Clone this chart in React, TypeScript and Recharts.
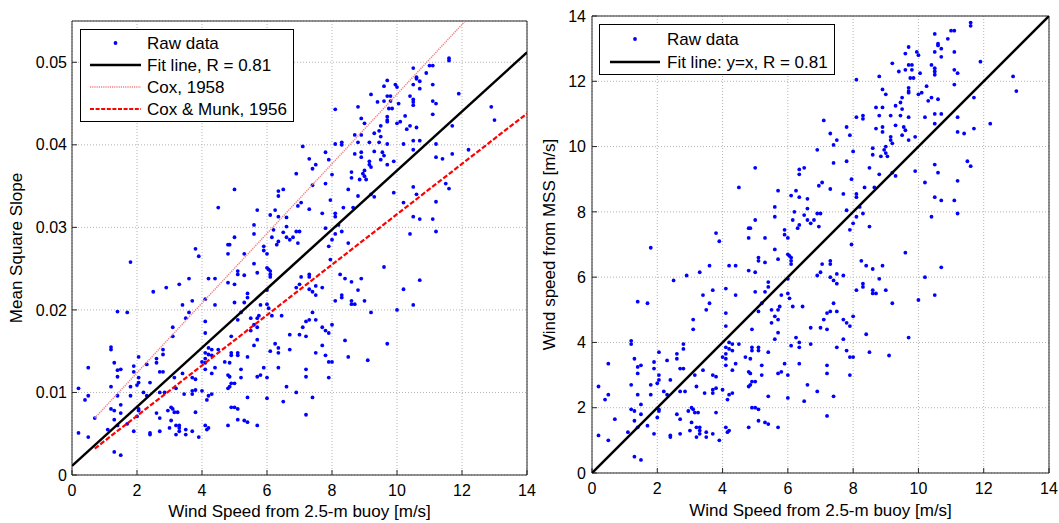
import React from "react";
import { ScatterChart, Scatter, XAxis, YAxis, CartesianGrid, Legend } from "recharts";

// wind speed from the 2.5-m buoy [m/s], one entry per sample
const buoyWind = [
  11.6, 11.6, 10.5, 11.0, 11.1, 10.9, 10.6, 10.6, 10.7, 9.7,
  9.95, 9.6, 10.0, 10.5, 10.7, 11.1, 9.2, 9.7, 9.8, 9.6,
  9.8, 9.4, 9.75, 9.85, 10.05, 10.4, 10.5, 10.5, 10.5, 11.1,
  11.2, 11.9, 12.9, 13.0, 11.1, 8.8, 8.1, 9.7, 9.7, 9.7,
  10.0, 10.1, 10.25, 8.9, 9.0, 9.5, 9.45, 9.3, 9.5, 10.3,
  10.4, 10.6, 11.7, 8.7, 8.9, 8.8, 9.15, 9.45, 9.7, 10.2,
  10.5, 10.7, 11.2, 8.7, 8.9, 8.9, 9.3, 9.55, 9.6, 10.5,
  11.7, 12.2, 11.2, 11.4, 9.9, 9.15, 9.15, 9.5, 8.1, 8.3,
  8.3, 7.1, 7.8, 7.3, 7.5, 7.4, 7.9, 9.7, 9.0, 8.95,
  9.0, 9.05, 9.2, 8.6, 8.6, 8.85, 8.0, 6.9, 7.4, 7.8,
  9.9, 9.2, 9.3, 8.8, 8.5, 10.5, 10.6, 11.5, 11.6, 11.2,
  10.2, 10.5, 10.7, 11.1, 11.2, 10.4, 8.65, 8.35, 7.95, 8.1,
  8.1, 8.2, 8.3, 8.1, 8.5, 8.0, 7.9, 7.8, 7.7, 7.05,
  6.95, 7.3, 6.9, 7.0, 6.95, 6.8, 6.7, 6.6, 6.5, 6.6,
  6.6, 6.35, 6.35, 6.35, 6.5, 6.25, 6.1, 6.2, 6.35, 6.3,
  6.15, 5.6, 5.6, 5.7, 5.9, 5.9, 6.0, 6.0, 6.05, 6.1,
  6.1, 6.1, 5.7, 5.6, 5.3, 5.0, 4.8, 4.85, 4.8, 3.8,
  3.9, 4.5, 1.8, 5.0, 7.3, 7.05, 7.3, 6.9, 7.0, 7.3,
  7.4, 7.5, 7.5, 7.7, 7.95, 8.25, 8.4, 8.6, 8.9, 8.8,
  8.3, 8.3, 8.1, 8.6, 8.7, 8.6, 9.0, 9.2, 10.2, 10.7,
  10.5, 9.6, 10.0, 9.7, 8.4, 8.5, 9.1, 7.8, 7.9, 8.0,
  7.7, 7.8, 7.9, 8.0, 7.9, 7.5, 7.4, 7.5, 7.3, 7.2,
  7.1, 7.2, 7.0, 7.7, 7.2, 7.2, 7.2, 7.4, 6.9, 6.7,
  6.7, 6.6, 6.5, 6.35, 6.35, 6.35, 6.25, 6.15, 6.45, 6.05,
  6.0, 6.0, 5.8, 5.7, 5.75, 5.7, 5.7, 5.6, 5.6, 5.7,
  5.8, 5.9, 6.0, 6.0, 6.1, 5.7, 5.4, 5.4, 5.5, 5.5,
  5.3, 5.4, 5.2, 5.1, 5.0, 5.1, 5.1, 5.2, 5.2, 5.1,
  5.1, 5.3, 5.4, 4.9, 4.9, 4.85, 4.8, 4.85, 4.9, 5.0,
  4.8, 4.85, 4.9, 5.0, 4.8, 4.9, 4.7, 4.4, 4.3, 4.3,
  4.2, 4.2, 4.3, 4.1, 4.1, 4.1, 4.1, 4.1, 4.1, 4.4,
  4.5, 4.2, 4.4, 4.8, 5.0, 5.1, 5.1, 5.3, 5.4, 4.0,
  4.1, 4.15, 4.2, 4.1, 4.15, 4.2, 4.3, 4.0, 3.9, 3.8,
  3.7, 3.8, 3.7, 3.7, 3.8, 3.7, 3.5, 3.5, 3.3, 3.3,
  3.3, 3.2, 3.2, 3.0, 3.15, 3.05, 3.1, 2.95, 3.05, 3.25,
  3.2, 3.15, 3.45, 3.4, 3.1, 3.1, 3.3, 3.4, 3.5, 3.6,
  3.6, 3.7, 2.9, 2.5, 2.8, 2.8, 2.7, 2.8, 2.6, 2.6,
  2.6, 2.7, 2.7, 2.7, 2.85, 2.4, 2.4, 2.4, 2.3, 2.2,
  2.3, 2.05, 2.05, 2.05, 2.05, 2.05, 2.0, 2.0, 1.9, 1.9,
  1.9, 1.8, 1.8, 1.7, 1.7, 1.4, 1.5, 1.5, 1.5, 1.4,
  1.4, 1.4, 1.3, 1.3, 1.3, 1.3, 1.5, 1.2, 1.2, 1.2,
  1.2, 1.1, 1.4, 0.7, 0.5, 0.5, 0.5, 0.4, 0.2, 0.2,
];

// mean square slope, same order as buoyWind
const mss = [
  0.0505, 0.0502, 0.0493, 0.0496, 0.0496, 0.0487, 0.0482, 0.048, 0.0477, 0.0478,
  0.0473, 0.0471, 0.047, 0.0473, 0.0468, 0.0473, 0.0461, 0.0459, 0.0459, 0.0453,
  0.0453, 0.0452, 0.0444, 0.0444, 0.045, 0.0459, 0.0455, 0.0452, 0.0448, 0.0453,
  0.045, 0.0462, 0.0446, 0.043, 0.0437, 0.0446, 0.0443, 0.0434, 0.043, 0.0428,
  0.0426, 0.0428, 0.0435, 0.0432, 0.0426, 0.0423, 0.0417, 0.0414, 0.041, 0.0419,
  0.0423, 0.0421, 0.0423, 0.0412, 0.0412, 0.0403, 0.0403, 0.0403, 0.0401, 0.0401,
  0.0405, 0.0405, 0.0401, 0.0389, 0.0391, 0.0385, 0.0392, 0.0391, 0.0387, 0.0394,
  0.0389, 0.0394, 0.0385, 0.0383, 0.038, 0.038, 0.0376, 0.0382, 0.0401, 0.0403,
  0.04, 0.0398, 0.0391, 0.0383, 0.0376, 0.0371, 0.0382, 0.0376, 0.0369, 0.0365,
  0.0362, 0.0358, 0.0373, 0.0367, 0.036, 0.0358, 0.0364, 0.0365, 0.0351, 0.0353,
  0.0342, 0.034, 0.0337, 0.0338, 0.0346, 0.0349, 0.034, 0.0353, 0.0347, 0.0331,
  0.033, 0.0313, 0.031, 0.031, 0.0295, 0.0292, 0.0324, 0.0324, 0.0333, 0.0317,
  0.0313, 0.0303, 0.0295, 0.0292, 0.0281, 0.0285, 0.0277, 0.0299, 0.0317, 0.033,
  0.0326, 0.0322, 0.0295, 0.0295, 0.0281, 0.0288, 0.0285, 0.0288, 0.0294, 0.0312,
  0.0301, 0.0313, 0.0338, 0.0344, 0.0346, 0.0321, 0.0315, 0.0297, 0.0283, 0.0279,
  0.0288, 0.0303, 0.0292, 0.0321, 0.0277, 0.0272, 0.0268, 0.0251, 0.0249, 0.0247,
  0.0243, 0.024, 0.0245, 0.0256, 0.0268, 0.0288, 0.0279, 0.0279, 0.0268, 0.0274,
  0.0265, 0.0324, 0.0258, 0.0346, 0.0243, 0.024, 0.024, 0.0227, 0.0231, 0.0225,
  0.0222, 0.0229, 0.0218, 0.0227, 0.0261, 0.0243, 0.0238, 0.0234, 0.0238, 0.0224,
  0.0218, 0.0215, 0.0211, 0.0211, 0.0207, 0.0207, 0.0211, 0.0197, 0.0225, 0.0236,
  0.0206, 0.0252, 0.02, 0.0159, 0.0163, 0.0143, 0.0139, 0.0145, 0.0137, 0.0137,
  0.0157, 0.0175, 0.0172, 0.0182, 0.0118, 0.0148, 0.0197, 0.0188, 0.0188, 0.0186,
  0.0179, 0.0168, 0.017, 0.0179, 0.0128, 0.0119, 0.0073, 0.0094, 0.01, 0.017,
  0.0152, 0.0107, 0.0089, 0.0154, 0.0148, 0.013, 0.0159, 0.0193, 0.0193, 0.0202,
  0.0207, 0.0224, 0.0206, 0.019, 0.0193, 0.0179, 0.0164, 0.0157, 0.0182, 0.0119,
  0.0121, 0.013, 0.0118, 0.0093, 0.015, 0.006, 0.0094, 0.0143, 0.019, 0.0175,
  0.0209, 0.0215, 0.0197, 0.0188, 0.0209, 0.0148, 0.0145, 0.0128, 0.0118, 0.008,
  0.0067, 0.0066, 0.0064, 0.0148, 0.0145, 0.0136, 0.0121, 0.0119, 0.0111, 0.0111,
  0.0105, 0.0107, 0.0082, 0.0082, 0.006, 0.0168, 0.0137, 0.013, 0.0123, 0.0145,
  0.0146, 0.0154, 0.0152, 0.0148, 0.0141, 0.0136, 0.0186, 0.0172, 0.0213, 0.0206,
  0.0152, 0.0238, 0.0238, 0.0233, 0.0231, 0.0247, 0.0243, 0.0242, 0.022, 0.0137,
  0.0128, 0.0091, 0.0096, 0.006, 0.0055, 0.0057, 0.0098, 0.0102, 0.0046, 0.0076,
  0.0118, 0.0116, 0.0102, 0.0098, 0.0103, 0.0053, 0.0055, 0.0049, 0.006, 0.0057,
  0.0053, 0.006, 0.0049, 0.0057, 0.0076, 0.0082, 0.008, 0.0078, 0.0066, 0.0076,
  0.0105, 0.0118, 0.0098, 0.0123, 0.0168, 0.0179, 0.0231, 0.0206, 0.019, 0.0197,
  0.0238, 0.0211, 0.0227, 0.0222, 0.0152, 0.0146, 0.0125, 0.0125, 0.0141, 0.0136,
  0.0075, 0.0069, 0.0053, 0.01, 0.01, 0.0051, 0.0049, 0.0112, 0.0134, 0.01,
  0.0096, 0.0143, 0.0118, 0.0112, 0.008, 0.0078, 0.0071, 0.0109, 0.0132, 0.0125,
  0.0053, 0.0107, 0.0096, 0.0197, 0.0062, 0.0198, 0.0128, 0.0085, 0.0075, 0.0127,
  0.0119, 0.0096, 0.0136, 0.0078, 0.0067, 0.0028, 0.0024, 0.0155, 0.0152, 0.0107,
  0.008, 0.0055, 0.006, 0.0069, 0.013, 0.0096, 0.0046, 0.0091, 0.0105, 0.0051,
];

// wind speed retrieved from MSS [m/s], same order as buoyWind
const mssWind = [
  13.8, 13.7, 13.45, 13.55, 13.55, 13.3, 13.15, 13.1, 13.0, 13.05,
  12.9, 12.85, 12.8, 12.9, 12.75, 12.9, 12.55, 12.5, 12.5, 12.35,
  12.35, 12.3, 12.1, 12.1, 12.25, 12.5, 12.4, 12.3, 12.2, 12.35,
  12.25, 12.6, 12.15, 11.7, 11.9, 12.15, 12.05, 11.8, 11.7, 11.65,
  11.6, 11.65, 11.85, 11.75, 11.6, 11.5, 11.35, 11.25, 11.15, 11.4,
  11.5, 11.45, 11.5, 11.2, 11.2, 10.95, 10.95, 10.95, 10.9, 10.9,
  11.0, 11.0, 10.9, 10.55, 10.6, 10.45, 10.65, 10.6, 10.5, 10.7,
  10.55, 10.7, 10.45, 10.4, 10.3, 10.3, 10.2, 10.35, 10.9, 10.95,
  10.85, 10.8, 10.6, 10.4, 10.2, 10.05, 10.35, 10.2, 10.0, 9.9,
  9.8, 9.7, 10.1, 9.95, 9.75, 9.7, 9.85, 9.9, 9.5, 9.55,
  9.25, 9.2, 9.1, 9.15, 9.35, 9.45, 9.2, 9.55, 9.4, 8.95,
  8.9, 8.45, 8.35, 8.35, 7.95, 7.85, 8.75, 8.75, 9.0, 8.55,
  8.45, 8.15, 7.95, 7.85, 7.55, 7.65, 7.45, 8.05, 8.55, 8.9,
  8.8, 8.7, 7.95, 7.95, 7.55, 7.75, 7.65, 7.75, 7.9, 8.4,
  8.1, 8.45, 9.15, 9.3, 9.35, 8.65, 8.5, 8.0, 7.6, 7.5,
  7.75, 8.15, 7.85, 8.65, 7.45, 7.3, 7.2, 6.7, 6.65, 6.6,
  6.5, 6.4, 6.55, 6.85, 7.2, 7.75, 7.5, 7.5, 7.2, 7.35,
  7.1, 8.75, 6.9, 9.35, 6.5, 6.4, 6.4, 6.05, 6.15, 6.0,
  5.9, 6.1, 5.8, 6.05, 7.0, 6.5, 6.35, 6.25, 6.35, 5.95,
  5.8, 5.7, 5.6, 5.6, 5.5, 5.5, 5.6, 5.2, 6.0, 6.3,
  5.45, 6.75, 5.3, 4.15, 4.25, 3.7, 3.6, 3.75, 3.55, 3.55,
  4.1, 4.6, 4.5, 4.8, 3.0, 3.85, 5.2, 4.95, 4.95, 4.9,
  4.7, 4.4, 4.45, 4.7, 3.3, 3.05, 1.75, 2.35, 2.5, 4.45,
  3.95, 2.7, 2.2, 4.0, 3.85, 3.35, 4.15, 5.1, 5.1, 5.35,
  5.5, 5.95, 5.45, 5.0, 5.1, 4.7, 4.3, 4.1, 4.8, 3.05,
  3.1, 3.35, 3.0, 2.3, 3.9, 1.4, 2.35, 3.7, 5.0, 4.6,
  5.55, 5.7, 5.2, 4.95, 5.55, 3.85, 3.75, 3.3, 3.0, 1.95,
  1.6, 1.55, 1.5, 3.85, 3.75, 3.5, 3.1, 3.05, 2.8, 2.8,
  2.65, 2.7, 2.0, 2.0, 1.4, 4.4, 3.55, 3.35, 3.15, 3.75,
  3.8, 4.0, 3.95, 3.85, 3.65, 3.5, 4.9, 4.5, 5.65, 5.45,
  3.95, 6.35, 6.35, 6.2, 6.15, 6.6, 6.5, 6.45, 5.85, 3.55,
  3.3, 2.25, 2.4, 1.4, 1.25, 1.3, 2.45, 2.55, 1.0, 1.85,
  3.0, 2.95, 2.55, 2.45, 2.6, 1.2, 1.25, 1.1, 1.4, 1.3,
  1.2, 1.4, 1.1, 1.3, 1.85, 2.0, 1.95, 1.9, 1.55, 1.85,
  2.65, 3.0, 2.45, 3.15, 4.4, 4.7, 6.15, 5.45, 5.0, 5.2,
  6.35, 5.6, 6.05, 5.9, 3.95, 3.8, 3.2, 3.2, 3.65, 3.5,
  1.8, 1.65, 1.2, 2.5, 2.5, 1.15, 1.1, 2.85, 3.45, 2.5,
  2.4, 3.7, 3.0, 2.85, 1.95, 1.9, 1.7, 2.75, 3.4, 3.2,
  1.2, 2.7, 2.4, 5.2, 1.45, 5.25, 3.3, 2.1, 1.8, 3.25,
  3.05, 2.4, 3.5, 1.9, 1.6, 0.5, 0.4, 4.05, 3.95, 2.7,
  1.95, 1.25, 1.4, 1.65, 3.35, 2.4, 1.0, 2.25, 2.65, 1.15,
];

// line end points
const fitX = [0, 14];
const fitMss = [0.0011, 0.0512];
const cox1958X = [0.7, 12.1];
const cox1958Mss = [0.0069, 0.055];
const coxMunkX = [0.7, 14];
const coxMunkMss = [0.0032, 0.0438];
const identityX = [0, 14];
const identityY = [0, 14];

const xTicks = [0, 2, 4, 6, 8, 10, 12, 14];
const mssTicks = [0, 0.01, 0.02, 0.03, 0.04, 0.05];
const windTicks = [0, 2, 4, 6, 8, 10, 12, 14];

const FONT = '"Liberation Sans", Arial, Helvetica, sans-serif';
const AXIS = "#262626";
const BLUE = "#0000ff";
const PINK = "#f08080";
const RED = "#ff0000";

const toPoints = (xs: number[], ys: number[]) => xs.map((x, i) => ({ x, y: ys[i] }));

const tickStyle = { fill: "#000", fontSize: 16, fontFamily: FONT };
const labelStyle = { fill: "#000", fontSize: 17, fontFamily: FONT };

const Dot = (p: any) => <circle cx={p.cx} cy={p.cy} r={1.9} fill={BLUE} />;
const NoMark = () => <g />;

type Kind = "dot" | "solid" | "dotted" | "dashed";
interface ILegendRow {
  label: string;
  kind: Kind;
}

const LegendBox = (props: {
  rows: ILegendRow[];
  width: number;
  height: number;
  rowTop: number;
  rowGap: number;
  lineX: [number, number];
  textX: number;
}) => {
  const { rows, width, height, rowTop, rowGap, lineX, textX } = props;
  return (
    <svg width={width} height={height} style={{ display: "block" }}>
      <rect x={0.5} y={0.5} width={width - 1} height={height - 1} fill="#fff" stroke="#000" />
      {rows.map((r, i) => {
        const cy = rowTop + i * rowGap;
        let sample;
        if (r.kind === "dot") {
          sample = <circle cx={(lineX[0] + lineX[1]) / 2} cy={cy} r={1.9} fill={BLUE} />;
        } else if (r.kind === "solid") {
          sample = <line x1={lineX[0]} x2={lineX[1]} y1={cy} y2={cy} stroke="#000" strokeWidth={2.5} />;
        } else if (r.kind === "dotted") {
          sample = (
            <line x1={lineX[0]} x2={lineX[1]} y1={cy} y2={cy} stroke={PINK} strokeWidth={1.5} strokeDasharray="1.2 1" />
          );
        } else {
          sample = (
            <line x1={lineX[0]} x2={lineX[1]} y1={cy} y2={cy} stroke={RED} strokeWidth={2.2} strokeDasharray="4 1.6" />
          );
        }
        return (
          <g key={r.label}>
            {sample}
            <text x={textX} y={cy + 6} fontSize={17} fontFamily={FONT} fill="#000">
              {r.label}
            </text>
          </g>
        );
      })}
    </svg>
  );
};

const mssLegend: ILegendRow[] = [
  { label: "Raw data", kind: "dot" },
  { label: "Fit line, R = 0.81", kind: "solid" },
  { label: "Cox, 1958", kind: "dotted" },
  { label: "Cox & Munk, 1956", kind: "dashed" },
];

const windLegend: ILegendRow[] = [
  { label: "Raw data", kind: "dot" },
  { label: "Fit line: y=x, R = 0.81", kind: "solid" },
];

// left chart is drawn wider than its plot so the last x tick label is not clipped
const MssChart = () => (
  <ScatterChart width={545} height={523} margin={{ top: 20, right: 17, bottom: 0, left: 0 }}>
    <CartesianGrid stroke="#b4b4b4" strokeDasharray="1 2" />
    <XAxis
      type="number"
      dataKey="x"
      domain={[0, 14]}
      ticks={xTicks}
      interval={0}
      allowDataOverflow
      height={48}
      tickSize={-5}
      tickMargin={15}
      tick={tickStyle}
      stroke={AXIS}
      label={{ value: "Wind Speed from 2.5-m buoy [m/s]", position: "insideBottom", offset: 6, ...labelStyle }}
    />
    <XAxis xAxisId="top" orientation="top" type="number" domain={[0, 14]} ticks={xTicks} interval={0}
      allowDataOverflow height={1} tickSize={-5} tick={false} stroke={AXIS} />
    <YAxis
      type="number"
      dataKey="y"
      domain={[0, 0.055]}
      ticks={mssTicks}
      interval={0}
      allowDataOverflow
      width={72}
      tickSize={-5}
      tickMargin={10}
      tick={tickStyle}
      stroke={AXIS}
      label={{ value: "Mean Square Slope", angle: -90, position: "insideLeft", offset: 16, ...labelStyle, style: { textAnchor: "middle" } }}
    />
    <YAxis yAxisId="right" orientation="right" type="number" domain={[0, 0.055]} ticks={mssTicks} interval={0}
      allowDataOverflow width={1} tickSize={-5} tick={false} stroke={AXIS} />
    <Legend
      verticalAlign="middle"
      align="center"
      layout="horizontal"
      wrapperStyle={{ left: 80, top: 29, width: 214, height: 93 }}
      content={() => (
        <LegendBox rows={mssLegend} width={214} height={93} rowTop={14} rowGap={22} lineX={[10, 61]} textX={67} />
      )}
    />
    <Scatter data={toPoints(buoyWind, mss)} shape={Dot} isAnimationActive={false} />
    <Scatter data={toPoints(cox1958X, cox1958Mss)} shape={NoMark} isAnimationActive={false}
      line={{ stroke: PINK, strokeWidth: 1.5, strokeDasharray: "1.2 1" }} />
    <Scatter data={toPoints(coxMunkX, coxMunkMss)} shape={NoMark} isAnimationActive={false}
      line={{ stroke: RED, strokeWidth: 2.2, strokeDasharray: "5 2" }} />
    <Scatter data={toPoints(fitX, fitMss)} shape={NoMark} isAnimationActive={false}
      line={{ stroke: "#000", strokeWidth: 2.5 }} />
  </ScatterChart>
);

const WindChart = () => (
  <ScatterChart width={529} height={523} margin={{ top: 15, right: 9, bottom: 0, left: 0 }}>
    <CartesianGrid stroke="#b4b4b4" strokeDasharray="1 2" />
    <XAxis
      type="number"
      dataKey="x"
      domain={[0, 14]}
      ticks={xTicks}
      interval={0}
      allowDataOverflow
      height={50}
      tickSize={-5}
      tickMargin={15}
      tick={tickStyle}
      stroke={AXIS}
      label={{ value: "Wind Speed from 2.5-m buoy [m/s]", position: "insideBottom", offset: 7, ...labelStyle }}
    />
    <XAxis xAxisId="top" orientation="top" type="number" domain={[0, 14]} ticks={xTicks} interval={0}
      allowDataOverflow height={1} tickSize={-5} tick={false} stroke={AXIS} />
    <YAxis
      type="number"
      dataKey="y"
      domain={[0, 14]}
      ticks={windTicks}
      interval={0}
      allowDataOverflow
      width={62}
      tickSize={-5}
      tickMargin={11}
      tick={tickStyle}
      stroke={AXIS}
      label={{ value: "Wind speed from MSS [m/s]", angle: -90, position: "insideLeft", offset: 19, ...labelStyle, style: { textAnchor: "middle" } }}
    />
    <YAxis yAxisId="right" orientation="right" type="number" domain={[0, 14]} ticks={windTicks} interval={0}
      allowDataOverflow width={1} tickSize={-5} tick={false} stroke={AXIS} />
    <Legend
      verticalAlign="middle"
      align="center"
      layout="horizontal"
      wrapperStyle={{ left: 69, top: 24, width: 236, height: 51 }}
      content={() => (
        <LegendBox rows={windLegend} width={236} height={51} rowTop={15} rowGap={23} lineX={[11, 61]} textX={68} />
      )}
    />
    <Scatter data={toPoints(buoyWind, mssWind)} shape={Dot} isAnimationActive={false} />
    <Scatter data={toPoints(identityX, identityY)} shape={NoMark} isAnimationActive={false}
      line={{ stroke: "#000", strokeWidth: 2.5 }} />
  </ScatterChart>
);

export default function App() {
  return (
    <div style={{ position: "absolute", left: 0, top: 0, width: 1059, height: 523, background: "#fff", fontFamily: FONT }}>
      <div style={{ position: "absolute", left: 0, top: 0 }}>
        <MssChart />
      </div>
      <div style={{ position: "absolute", left: 530, top: 0 }}>
        <WindChart />
      </div>
    </div>
  );
}
